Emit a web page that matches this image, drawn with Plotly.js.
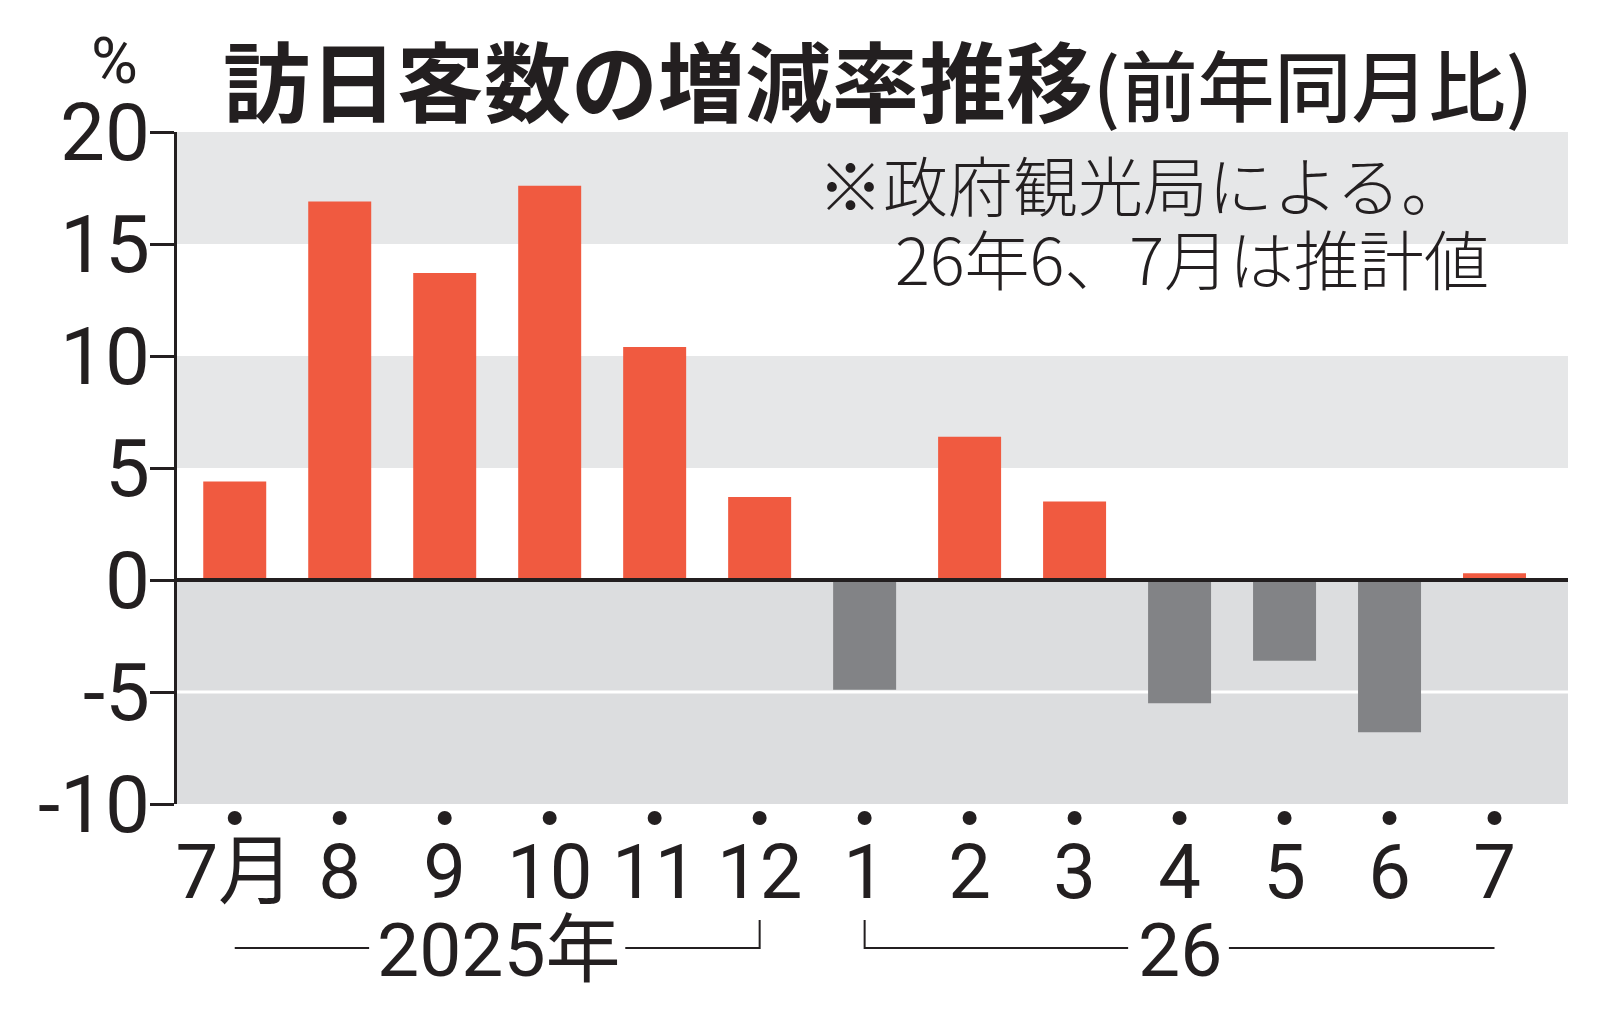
<!DOCTYPE html>
<html>
<head>
<meta charset="utf-8">
<script src="https://cdn.plot.ly/plotly-3.0.1.min.js"></script>
<style>
  body { margin: 0; background: #fff; }
  #graph { width: 1606px; height: 1016px; }
</style>
</head>
<body>
<div id="graph"></div>
<script>
// months shown on the x axis (2025/7 .. 2026/7)
const months = ['7月', '8', '9', '10', '11', '12', '1', '2', '3', '4', '5', '6', '7'];
// year-on-year change of foreign visitors, %
const changeRate = [4.4, 16.9, 13.7, 17.6, 10.4, 3.7, -4.9, 6.4, 3.5, -5.5, -3.6, -6.8, 0.3];
const yTicks = [-10, -5, 0, 5, 10, 15, 20];
const yearLabels = ['2025年', '26'];

const ink = '#231f20';
const digits = 'Roboto, "Noto Sans CJK JP", sans-serif';
const jp = '"Noto Sans CJK JP", sans-serif';

const barColors = changeRate.map(v => (v >= 0 ? '#f05a40' : '#828386'));

const barTrace = {
    type: 'bar',
    x: months,
    y: changeRate,
    width: 0.6,
    marker: { color: barColors, line: { width: 0 } },
    hoverinfo: 'none',
    showlegend: false,
};

// pixel helper for marks below the axis (plot area spans 132..804)
const py = p => (804 - p) / 672;

const bracketLine = { color: ink, width: 2 };
const shapes = [
    // background bands
    { type: 'rect', xref: 'paper', yref: 'y', x0: 0, x1: 1, y0: 15, y1: 20, fillcolor: '#e6e7e8', line: { width: 0 }, layer: 'below' },
    { type: 'rect', xref: 'paper', yref: 'y', x0: 0, x1: 1, y0: 5, y1: 10, fillcolor: '#e6e7e8', line: { width: 0 }, layer: 'below' },
    { type: 'rect', xref: 'paper', yref: 'y', x0: 0, x1: 1, y0: -10, y1: 0, fillcolor: '#dcdddf', line: { width: 0 }, layer: 'below' },
    { type: 'line', xref: 'paper', yref: 'y', x0: 0, x1: 1, y0: -5, y1: -5, line: { color: '#ffffff', width: 3 }, layer: 'below' },
    // zero line on top of bars
    { type: 'line', xref: 'paper', yref: 'y', x0: 0, x1: 1, y0: 0, y1: 0, line: { color: ink, width: 4 }, layer: 'above' },
    // 2025 bracket
    { type: 'line', xref: 'x', yref: 'paper', x0: 0, x1: 1.28, y0: py(948), y1: py(948), line: bracketLine },
    { type: 'path', xref: 'x', yref: 'paper', path: `M 3.72 ${py(948)} L 5 ${py(948)} L 5 ${py(920)}`, line: bracketLine },
    // 2026 bracket
    { type: 'path', xref: 'x', yref: 'paper', path: `M 6 ${py(920)} L 6 ${py(948)} L 8.51 ${py(948)}`, line: bracketLine },
    { type: 'line', xref: 'x', yref: 'paper', x0: 9.47, x1: 12, y0: py(948), y1: py(948), line: bracketLine },
];

// small dot above each month label
months.forEach((m, i) => {
    shapes.push({
        type: 'circle', xref: 'x', yref: 'paper',
        xsizemode: 'pixel', ysizemode: 'pixel', xanchor: i, yanchor: py(818),
        x0: -7, x1: 7, y0: -7, y1: 7,
        fillcolor: ink, line: { width: 0 },
    });
});

const annotations = [
    {
        xref: 'paper', yref: 'paper', x: 0.0316, y: py(78), xanchor: 'left', yanchor: 'middle',
        text: '<b>訪日客数の増減率推移</b><span style="font-size:77px;font-weight:500">(前年同月比)</span>',
        showarrow: false, font: { family: jp, size: 87, color: ink },
    },
    {
        xref: 'paper', yref: 'paper', x: -0.045, y: py(62), xanchor: 'center', yanchor: 'middle',
        text: '%', showarrow: false, font: { family: digits, size: 64, color: ink },
    },
    {
        xref: 'paper', yref: 'paper', x: 0.928, y: py(183), xanchor: 'right', yanchor: 'middle',
        text: '※政府観光局による。',
        showarrow: false, font: { family: jp, size: 65, weight: 300, color: ink },
    },
    {
        xref: 'paper', yref: 'paper', x: 0.945, y: py(257), xanchor: 'right', yanchor: 'middle',
        text: '26年6、7月は推計値',
        showarrow: false, font: { family: jp, size: 65, weight: 300, color: ink },
    },
    {
        xref: 'x', yref: 'paper', x: 2.52, y: py(950), xanchor: 'center', yanchor: 'middle',
        text: yearLabels[0], showarrow: false, font: { family: digits, size: 75, color: ink },
    },
    {
        xref: 'x', yref: 'paper', x: 9.0, y: py(950), xanchor: 'center', yanchor: 'middle',
        text: yearLabels[1], showarrow: false, font: { family: digits, size: 75, color: ink },
    },
];

const layout = {
    width: 1606,
    height: 1016,
    margin: { l: 177, r: 38, t: 132, b: 212 },
    paper_bgcolor: '#ffffff',
    plot_bgcolor: '#ffffff',
    xaxis: {
        type: 'category',
        range: [-0.55, 12.7],
        showgrid: false,
        zeroline: false,
        showline: false,
        ticks: '',
        ticklabelstandoff: 17,
        tickfont: { family: digits, size: 76, color: ink },
        fixedrange: true,
    },
    yaxis: {
        range: [-10, 20],
        tickvals: yTicks,
        ticktext: yTicks.map(v => (v < 0 ? '-' + Math.abs(v) : String(v))),
        showgrid: false,
        zeroline: false,
        showline: true,
        linecolor: ink,
        linewidth: 3,
        ticks: 'outside',
        ticklen: 24,
        tickwidth: 3,
        tickcolor: ink,
        ticklabelstandoff: -16,
        tickfont: { family: digits, size: 80, color: ink },
        fixedrange: true,
    },
    shapes: shapes,
    annotations: annotations,
};

const config = { displayModeBar: false, staticPlot: true };

Plotly.newPlot('graph', [barTrace], layout, config);
</script>
</body>
</html>
